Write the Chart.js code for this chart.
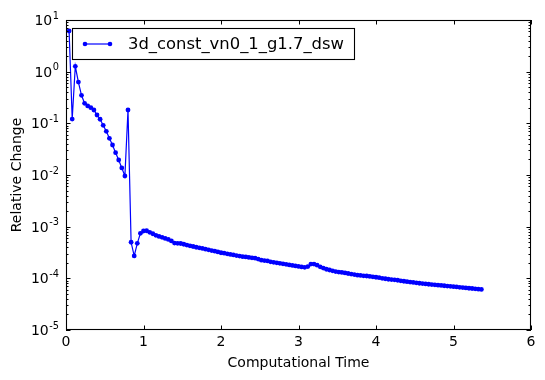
<!DOCTYPE html>
<html>
<head>
<meta charset="utf-8">
<script src="https://cdn.jsdelivr.net/npm/chart.js@4/dist/chart.umd.min.js"></script>
<style>
html,body{margin:0;padding:0;background:#fff;}
#c{display:block;}
</style>
</head>
<body>
<canvas id="c" width="545" height="380"></canvas>
<script>
const seriesLabel = "3d_const_vn0_1_g1.7_dsw";
const xTitle = "Computational Time";
const yTitle = "Relative Change";
const xTickValues = [0, 1, 2, 3, 4, 5, 6];
const yTickExponents = [1, 0, -1, -2, -3, -4, -5];

const times = [
 0.04,0.08,0.12,0.16,0.20,0.24,0.28,0.32,0.36,0.40,
 0.44,0.48,0.52,0.56,0.60,0.64,0.68,0.72,0.76,0.80,
 0.84,0.88,0.92,0.96,1.00,1.04,1.08,1.12,1.16,1.20,
 1.24,1.28,1.32,1.36,1.40,1.44,1.48,1.52,1.56,1.60,
 1.64,1.68,1.72,1.76,1.80,1.84,1.88,1.92,1.96,2.00,
 2.04,2.08,2.12,2.16,2.20,2.24,2.28,2.32,2.36,2.40,
 2.44,2.48,2.52,2.56,2.60,2.64,2.68,2.72,2.76,2.80,
 2.84,2.88,2.92,2.96,3.00,3.04,3.08,3.12,3.16,3.20,
 3.24,3.28,3.32,3.36,3.40,3.44,3.48,3.52,3.56,3.60,
 3.64,3.68,3.72,3.76,3.80,3.84,3.88,3.92,3.96,4.00,
 4.04,4.08,4.12,4.16,4.20,4.24,4.28,4.32,4.36,4.40,
 4.44,4.48,4.52,4.56,4.60,4.64,4.68,4.72,4.76,4.80,
 4.84,4.88,4.92,4.96,5.00,5.04,5.08,5.12,5.16,5.20,
 5.24,5.28,5.32,5.36
];

const relChange = [
 6.12,0.121,1.27,0.63,0.349,0.244,0.217,0.201,0.181,0.145,
 0.12,0.0916,0.070,0.0513,0.0381,0.027,0.0195,0.0137,0.00957,0.181,
 4.99e-4,2.71e-4,4.76e-4,7.44e-4,8.24e-4,8.34e-4,7.77e-4,7.30e-4,6.80e-4,6.47e-4,
 6.22e-4,5.92e-4,5.66e-4,5.29e-4,4.82e-4,4.76e-4,4.72e-4,4.57e-4,4.41e-4,4.26e-4,
 4.13e-4,4.00e-4,3.89e-4,3.79e-4,3.67e-4,3.56e-4,3.45e-4,3.35e-4,3.24e-4,3.13e-4,
 3.07e-4,2.98e-4,2.90e-4,2.84e-4,2.76e-4,2.70e-4,2.63e-4,2.60e-4,2.54e-4,2.49e-4,
 2.46e-4,2.36e-4,2.25e-4,2.21e-4,2.17e-4,2.09e-4,2.04e-4,2.00e-4,1.95e-4,1.91e-4,
 1.87e-4,1.82e-4,1.78e-4,1.74e-4,1.70e-4,1.66e-4,1.63e-4,1.69e-4,1.89e-4,1.89e-4,
 1.80e-4,1.67e-4,1.58e-4,1.50e-4,1.45e-4,1.40e-4,1.35e-4,1.32e-4,1.30e-4,1.27e-4,
 1.24e-4,1.21e-4,1.18e-4,1.15e-4,1.14e-4,1.12e-4,1.11e-4,1.09e-4,1.07e-4,1.05e-4,
 1.03e-4,1.00e-4,9.82e-5,9.61e-5,9.48e-5,9.35e-5,9.19e-5,8.95e-5,8.79e-5,8.63e-5,
 8.48e-5,8.33e-5,8.18e-5,8.04e-5,7.93e-5,7.79e-5,7.69e-5,7.58e-5,7.48e-5,7.38e-5,
 7.28e-5,7.19e-5,7.09e-5,7.00e-5,6.91e-5,6.82e-5,6.70e-5,6.61e-5,6.52e-5,6.43e-5,
 6.35e-5,6.26e-5,6.18e-5,6.10e-5
];

const FONT = "'DejaVu Sans', sans-serif";
const LINE_COLOR = '#0000ff';

const decorPlugin = {
  id: 'decor',
  afterDraw(chart) {
    const ctx = chart.ctx;
    const a = chart.chartArea;
    const xs = chart.scales.x, ys = chart.scales.y;
    ctx.save();
    // frame
    ctx.strokeStyle = '#000';
    ctx.lineWidth = 1.1;
    ctx.strokeRect(Math.round(a.left) + 0.5, Math.round(a.top) + 0.5,
                   Math.round(a.right - a.left) - 1, Math.round(a.bottom - a.top) - 1);
    // x ticks (inward, bottom and top)
    ctx.lineWidth = 1;
    ctx.beginPath();
    xTickValues.forEach(v => {
      const px = Math.round(xs.getPixelForValue(v)) + 0.5;
      ctx.moveTo(px, a.bottom); ctx.lineTo(px, a.bottom - 4.5);
      ctx.moveTo(px, a.top); ctx.lineTo(px, a.top + 4.5);
    });
    // y ticks major & minor (inward, left and right)
    yTickExponents.forEach(e => {
      const py = Math.round(ys.getPixelForValue(Math.pow(10, e))) + 0.5;
      ctx.moveTo(a.left, py); ctx.lineTo(a.left + 4.5, py);
      ctx.moveTo(a.right, py); ctx.lineTo(a.right - 4.5, py);
      if (e > -5) {
        for (let m = 2; m <= 9; m++) {
          const pm = Math.round(ys.getPixelForValue(m * Math.pow(10, e - 1))) + 0.5;
          ctx.moveTo(a.left, pm); ctx.lineTo(a.left + 2.5, pm);
          ctx.moveTo(a.right, pm); ctx.lineTo(a.right - 2.5, pm);
        }
      }
    });
    ctx.stroke();

    // x tick labels
    ctx.fillStyle = '#000';
    ctx.font = '14px ' + FONT;
    ctx.textAlign = 'center';
    ctx.textBaseline = 'alphabetic';
    xTickValues.forEach(v => {
      ctx.fillText(String(v), xs.getPixelForValue(v), a.bottom + 16);
    });
    // y tick labels: 10^e
    yTickExponents.forEach(e => {
      const py = ys.getPixelForValue(Math.pow(10, e));
      const sup = String(e);
      ctx.font = '9.8px ' + FONT;
      const supW = ctx.measureText(sup).width;
      const right = a.left - 7;
      ctx.textAlign = 'left';
      ctx.fillText(sup, right - supW, py - 1.5);
      ctx.font = '14px ' + FONT;
      ctx.textAlign = 'right';
      ctx.fillText('10', right - supW - 0.5, py + 5);
    });
    // axis titles
    ctx.font = '14px ' + FONT;
    ctx.textAlign = 'center';
    ctx.fillText(xTitle, (a.left + a.right) / 2, a.bottom + 37);
    ctx.save();
    ctx.translate(21, (a.top + a.bottom) / 2);
    ctx.rotate(-Math.PI / 2);
    ctx.fillText(yTitle, 0, 0);
    ctx.restore();

    // legend
    const lx = 72.5, ly = 28.5, lw = 282, lh = 31;
    ctx.fillStyle = '#fff';
    ctx.fillRect(lx, ly, lw, lh);
    ctx.strokeStyle = '#000';
    ctx.lineWidth = 1.1;
    ctx.strokeRect(lx, ly, lw, lh);
    const cy = ly + lh / 2;
    ctx.strokeStyle = LINE_COLOR;
    ctx.lineWidth = 1.2;
    ctx.beginPath(); ctx.moveTo(85, cy); ctx.lineTo(110, cy); ctx.stroke();
    ctx.fillStyle = LINE_COLOR;
    [85, 110].forEach(px => { ctx.beginPath(); ctx.arc(px, cy, 2.3, 0, Math.PI * 2); ctx.fill(); });
    ctx.fillStyle = '#000';
    ctx.font = '16.4px ' + FONT;
    ctx.textAlign = 'left';
    ctx.textBaseline = 'middle';
    ctx.fillText(seriesLabel, 128, cy + 1);
    ctx.restore();
  }
};

new Chart(document.getElementById('c'), {
  type: 'line',
  data: {
    datasets: [{
      label: seriesLabel,
      data: times.map((t, i) => ({ x: t, y: relChange[i] })),
      borderColor: LINE_COLOR,
      backgroundColor: LINE_COLOR,
      borderWidth: 1.2,
      pointRadius: 2.4,
      pointBorderWidth: 0,
      pointBackgroundColor: LINE_COLOR,
      tension: 0,
      fill: false
    }]
  },
  options: {
    responsive: false,
    animation: false,
    devicePixelRatio: 1,
    layout: { autoPadding: false, padding: { top: 20, right: 14, left: 0, bottom: 0 } },
    plugins: { legend: { display: false }, tooltip: { enabled: false } },
    scales: {
      x: {
        type: 'linear', min: 0, max: 6,
        grid: { display: false }, border: { display: false },
        ticks: { display: false },
        afterFit: s => { s.height = 50; }
      },
      y: {
        type: 'logarithmic', min: 1e-5, max: 10,
        grid: { display: false }, border: { display: false },
        ticks: { display: false },
        afterFit: s => { s.width = 66; }
      }
    }
  },
  plugins: [decorPlugin]
});
</script>
</body>
</html>
